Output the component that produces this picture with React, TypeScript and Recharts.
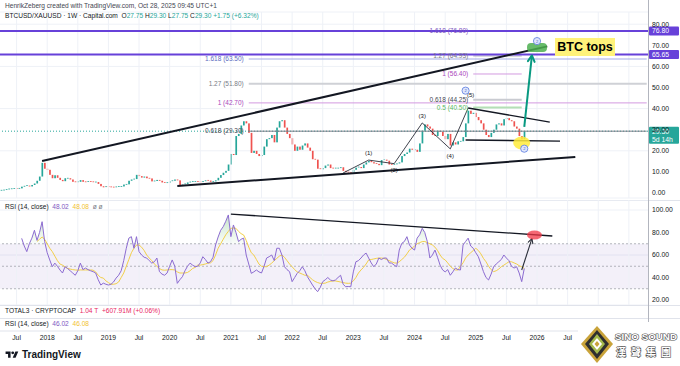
import React from "react";
import {
  ComposedChart,
  Bar,
  Line,
  Area,
  XAxis,
  YAxis,
  CartesianGrid,
  ReferenceLine,
  ReferenceArea,
  ReferenceDot,
} from "recharts";

// semi-monthly slots, slot 0 = first half of Apr 2017
const SLOTS = 254;

// BTC/XAU closes, two per month, Apr 2017 .. Oct 2025
const closes = [
  1.3, 1.4, 1.6, 1.9, 2.0, 2.1, 2.0, 2.2, 3.0, 3.4, 3.5, 3.1,
  3.8, 4.5, 5.8, 7.8, 14.3, 11.5, 11.0, 8.6, 7.0, 8.4, 7.2, 6.2,
  5.6, 7.0, 7.0, 6.4, 5.3, 5.0, 5.3, 6.1, 5.3, 5.2, 5.4, 5.3,
  5.2, 5.2, 4.3, 3.2, 2.7, 3.0, 2.9, 2.8, 2.7, 2.9, 3.1, 3.1,
  4.0, 4.1, 5.8, 6.4, 6.6, 8.6, 8.0, 7.3, 7.8, 7.0, 6.9, 5.5,
  5.7, 6.2, 5.8, 5.0, 4.9, 4.9, 5.5, 5.8, 6.4, 6.0, 3.5, 4.0,
  4.3, 5.0, 5.4, 5.5, 5.5, 5.3, 5.2, 5.6, 6.0, 5.9, 5.3, 5.5,
  6.0, 7.2, 8.5, 9.6, 10.5, 13.5, 18.5, 18.0, 27.0, 28.0, 32.0, 34.0,
  33.0, 28.5, 19.0, 20.0, 18.5, 17.5, 18.0, 22.0, 25.5, 26.0, 27.5, 24.0,
  31.0, 34.0, 34.5, 31.0, 28.0, 26.0, 23.0, 20.0, 22.0, 20.5, 22.5, 23.5,
  21.5, 20.0, 16.0, 15.8, 11.5, 11.2, 11.8, 13.0, 13.5, 11.8, 11.5, 11.8,
  11.8, 12.2, 10.5, 9.9, 9.7, 9.6, 11.0, 12.0, 12.3, 11.8, 13.5, 14.5,
  15.2, 14.6, 14.0, 13.8, 13.2, 15.6, 15.8, 15.3, 13.5, 13.4, 13.6, 14.0,
  14.5, 17.5, 18.5, 19.2, 21.0, 20.5, 20.5, 19.5, 23.5, 29.5, 32.5, 31.5,
  30.5, 27.5, 27.0, 29.5, 29.0, 27.0, 25.5, 28.0, 22.5, 24.0, 23.0, 24.5,
  24.5, 26.5, 33.0, 39.0, 37.5, 38.0, 36.0, 34.5, 33.0, 30.0, 27.5, 26.5,
  28.5, 30.0, 32.5, 33.0, 32.0, 35.0, 35.5, 34.5, 34.0, 31.5, 30.5, 27.0,
  25.5, 29.3,
];

const RSI_START = 8;
const rsiVals = [
  74.8, 68, 63, 70, 75, 82, 73, 80, 89.6, 72, 62, 55.6,
  49.6, 52.8, 50, 46.7, 44, 49.6, 48, 46, 44, 42, 46, 52.8,
  47, 48.4, 47, 46, 45.2, 44, 38, 33.3, 35, 34, 33.3, 34,
  36, 39.5, 42, 46, 55, 66, 75, 76.3, 66, 76.3, 63, 60,
  58, 57.3, 55, 52.8, 54, 57.3, 45.2, 43, 42, 44, 50, 55.6,
  50, 34.8, 38, 40.7, 46, 50, 52.8, 51, 49.6, 50, 53, 58.5,
  56, 52.8, 54, 58, 68.9, 76, 82, 85.2, 90, 95.6, 76.3, 86.7,
  80, 71.9, 74, 75, 60, 52, 43.7, 45, 46.7, 45, 44, 50,
  57.3, 58.5, 60, 55, 66, 66, 60, 49.6, 47, 45.2, 36.3, 40,
  43.7, 46, 49.6, 46, 40.7, 37, 33.3, 30, 27.4, 31, 36.3, 38,
  40, 37.8, 37, 37.8, 40, 42, 34, 31.8, 32, 31.8, 45, 54,
  55, 57.3, 60, 61.7, 57.3, 53, 49.6, 52, 57.3, 56, 57.3, 57.3,
  53, 52.8, 51, 49.6, 64.4, 70.4, 72, 76.3, 68.9, 66, 64.4, 75,
  78, 83.7, 80, 71.9, 57.3, 60, 64.4, 58, 51, 46.7, 45, 47,
  42, 45, 48.4, 47, 46.7, 68.9, 72, 75, 68, 66, 62, 58.5,
  52, 45.2, 40, 37.8, 43, 49.6, 52, 54, 56, 60, 57.3, 55,
  50, 48.4, 49.6, 44, 36.3, 48,
];

const MA_START = 14;
const rsiMa = [
  72, 74, 76, 74, 70, 66, 63, 59, 55, 52, 51, 49.5,
  48, 47.5, 47, 46.7, 46.5, 46.7, 46.7, 46.7, 46.7, 46.7, 46.5, 45,
  42, 40, 39.5, 37, 35.5, 34, 34, 34.5, 36, 40, 44, 50,
  56, 62, 66, 68.9, 68.9, 67, 64, 60, 57.3, 55, 52, 50,
  48, 46.7, 46.5, 46.7, 47, 47, 46.7, 45, 44, 44, 44, 44.5,
  46, 48, 49, 51, 51, 51.5, 52, 52.8, 53, 55, 60, 66,
  70, 74, 78, 81, 83.7, 84, 83.7, 81, 79, 77.8, 73, 67,
  62, 60, 56, 52, 50, 49.6, 49.6, 51, 52.8, 55, 57, 59,
  60, 58, 55, 52, 49.6, 47, 45, 44, 43, 42, 42, 40,
  38, 36.5, 35.5, 34.8, 34.8, 35, 36, 36.5, 37, 36.9, 36.5, 36,
  35.5, 35, 34.8, 35, 37, 40, 44, 46.7, 49, 52, 55.6, 56,
  56.5, 57, 57.3, 57.3, 57, 56, 55, 54, 53, 52.8, 54, 56,
  58, 61, 64.4, 66, 68, 70, 71, 71.9, 72, 71, 70, 68.9,
  67, 64, 60, 57, 55.6, 53, 50, 48, 46.7, 46.7, 50, 53,
  57.3, 60, 62, 64, 66, 64, 61, 57, 54, 50, 47, 45.2,
  46, 47.5, 49.6, 51, 52.5, 54, 54, 53, 52, 50.5, 49.6, 48,
];

// Jul / Jan slots; the grid runs to Jul 2027, the labels stop where the logo starts
const gridTicks = [6, 18, 30, 42, 54, 66, 78, 90, 102, 114, 126, 138, 150, 162, 174, 186, 198, 210, 222, 234, 246];
const labelTicks = [6, 18, 30, 42, 54, 66, 78, 90, 102, 114, 126, 138, 150, 162, 174, 186, 198, 210, 222];
const yearOfTick: Record<number, string> = {
  18: "2018", 42: "2019", 66: "2020", 90: "2021", 114: "2022",
  138: "2023", 162: "2024", 186: "2025", 210: "2026",
};
const priceTicks = [0, 10, 20, 30, 40, 50, 60, 70, 80];
const rsiTicks = [20, 40, 60, 80, 100];

// drawings, in slot / price coordinates
const wedgeUpper = [{ x: 16, y: 15.2 }, { x: 214, y: 69.5 }];
const wedgeLower = [{ x: 69, y: 3.3 }, { x: 225, y: 17.1 }];
const triUpper = [{ x: 183, y: 40.3 }, { x: 215, y: 33.6 }];
const triLower = [{ x: 182, y: 25.1 }, { x: 219, y: 24.6 }];
const wavePath = [
  { x: 134, y: 9.5 }, { x: 144, y: 15.6 }, { x: 154, y: 13.9 },
  { x: 165, y: 33.2 }, { x: 176, y: 20.9 }, { x: 183, y: 40.3 },
];
const waveLabels = [
  { x: 144, y: 19, t: "(1)" }, { x: 154, y: 10.9, t: "(2)" }, { x: 165, y: 36.6, t: "(3)" },
  { x: 176, y: 17.5, t: "(4)" }, { x: 184, y: 46.6, t: "(5)" },
];
const tealArrow = [{ x: 205, y: 31.3 }, { x: 208, y: 65.2 }];
const rsiTrend = [{ x: 90, y: 96.4 }, { x: 216, y: 76.9 }];
const rsiArrow = [{ x: 204, y: 46.7 }, { x: 208, y: 74.5 }];

const fibLeft = [
  { v: 63.5, t: "1.618 (63.50)", line: "#a4abe6", text: "#5c6bc0", w: 1 },
  { v: 51.8, t: "1.27 (51.80)", line: "#cfd1d6", text: "#787b86", w: 2 },
  { v: 42.7, t: "1 (42.70)", line: "#d39ae0", text: "#ab47bc", w: 1 },
  { v: 29.3, t: "0.618 (29.30)", line: "#787b86", text: "#434651", w: 1 },
];
const FIB_LEFT_FROM = 97;
const FIB_LEFT_TO = 253;
const fibRight = [
  { v: 76.8, t: "1.618 (76.80)", line: "#6741d9", text: "#7e57c2", w: 1 },
  { v: 64.93, t: "1.27 (64.93)", line: "#b2b5be", text: "#787b86", w: 1 },
  { v: 56.4, t: "1 (56.40)", line: "#d39ae0", text: "#ab47bc", w: 1 },
  { v: 44.25, t: "0.618 (44.25)", line: "#c9cbd1", text: "#434651", w: 2 },
  { v: 40.5, t: "0.5 (40.50)", line: "#b4dfb6", text: "#5cb85f", w: 2 },
];
const FIB_RIGHT_FROM = 185;
const FIB_RIGHT_TO = 204;
const purpleLevels = [76.8, 65.65];
const LAST = 29.3;

const rows = Array.from({ length: SLOTS }, (_, i) => {
  const c = i < closes.length ? closes[i] : null;
  const o = c == null ? null : i === 0 ? c : closes[i - 1];
  const ri = i - RSI_START;
  const mi = i - MA_START;
  return {
    i,
    o,
    c,
    body: c == null || o == null ? null : [Math.min(o, c), Math.max(o, c)],
    rsi: ri >= 0 && ri < rsiVals.length ? rsiVals[ri] : null,
    ma: mi >= 0 && mi < rsiMa.length ? rsiMa[mi] : null,
  };
});

const UP = "#26a69a";
const DOWN = "#ef5350";
const INK = "#131722";
const GRID = "#eef1f7";
const PURPLE = "#6741d9";
const FONT = '"Liberation Sans", Arial, sans-serif';

const Candle = (p: any) => {
  const { x, y, width, height, payload } = p;
  if (payload == null || payload.c == null) return null;
  const up = payload.c >= payload.o;
  const w = 1.7;
  const h = Math.max(0.8, Math.abs(height));
  const top = Math.min(y, y + height) - (h > Math.abs(height) ? 0.4 : 0);
  return <rect x={x + width / 2 - w / 2} y={top} width={w} height={h} fill={up ? UP : DOWN} />;
};

const arrowShape = (color: string, width: number, head: number) => (p: any) => {
  const { x1, y1, x2, y2 } = p;
  const a = Math.atan2(y2 - y1, x2 - x1);
  const s = 0.5;
  const ax = x2 - head * Math.cos(a - s);
  const ay = y2 - head * Math.sin(a - s);
  const bx = x2 - head * Math.cos(a + s);
  const by = y2 - head * Math.sin(a + s);
  return (
    <g>
      <line x1={x1} y1={y1} x2={x2} y2={y2} stroke={color} strokeWidth={width} />
      <polyline
        points={`${ax},${ay} ${x2},${y2} ${bx},${by}`}
        fill="none"
        stroke={color}
        strokeWidth={width}
        strokeLinecap="round"
        strokeLinejoin="round"
      />
    </g>
  );
};

const axisTag = (text: string, bg: string, sub?: string) => (props: any) => {
  const vb = props.viewBox;
  const x = vb.x + vb.width;
  const y = vb.y;
  const h = sub ? 17 : 9;
  return (
    <g>
      <rect x={x + 1} y={y - 4.5} width={30} height={h} fill={bg} rx={1} />
      <text x={x + 4} y={y + 2.4} fontSize={6.8} fill="#fff" fontFamily={FONT}>{text}</text>
      {sub ? <text x={x + 4} y={y + 10.5} fontSize={6.8} fill="#fff" fontFamily={FONT}>{sub}</text> : null}
    </g>
  );
};

const textDot = (txt: string, color: string, size: number) => (p: any) => (
  <text x={p.cx} y={p.cy} textAnchor="middle" dominantBaseline="central" fontSize={size} fill={color} fontFamily={FONT}>
    {txt}
  </text>
);

const ringDot = (p: any) => (
  <g>
    <circle cx={p.cx} cy={p.cy} r={3.6} fill="#dfe6fb" stroke="#5b7be0" strokeWidth={0.8} />
    <text x={p.cx} y={p.cy} textAnchor="middle" dominantBaseline="central" fontSize={4} fill="#3f5fcf" fontFamily={FONT}>2</text>
  </g>
);

const axisTick = { fontSize: 6.8, fill: INK, fontFamily: FONT };

function PriceChart() {
  return (
    <ComposedChart width={680} height={200} data={rows} margin={{ top: 12, right: 0, bottom: 2, left: 0 }} barCategoryGap={0}>
      <CartesianGrid stroke={GRID} vertical={false} />
      <XAxis dataKey="i" type="category" scale="band" hide />
      <YAxis
        orientation="right"
        width={32}
        domain={[-2.37, 85.78]}
        ticks={priceTicks}
        allowDataOverflow
        tickFormatter={(v: number) => v.toFixed(2)}
        tick={axisTick}
        tickLine={false}
        axisLine={false}
        tickSize={0}
        tickMargin={4}
      />
      {gridTicks.map((t) => (
        <ReferenceLine key={"v" + t} x={t} stroke={GRID} />
      ))}

      {/* current price line */}
      <ReferenceLine y={LAST} stroke={UP} strokeDasharray="1 2" label={axisTag("29.30", UP, "5d 14h")} />

      {/* fib levels, left set */}
      {fibLeft.map((f) => (
        <ReferenceLine
          key={f.t}
          segment={[{ x: FIB_LEFT_FROM, y: f.v }, { x: FIB_LEFT_TO, y: f.v }]}
          stroke={f.line}
          strokeWidth={f.w}
          label={{ value: f.t, position: "left", fontSize: 6.5, fill: f.text, fontFamily: FONT }}
        />
      ))}
      {/* fib levels, right set */}
      {fibRight.map((f) => (
        <ReferenceLine
          key={f.t}
          segment={[{ x: FIB_RIGHT_FROM, y: f.v }, { x: FIB_RIGHT_TO, y: f.v }]}
          stroke={f.line}
          strokeWidth={f.w}
          label={{ value: f.t, position: "left", fontSize: 6.5, fill: f.text, fontFamily: FONT }}
        />
      ))}
      {purpleLevels.map((v) => (
        <ReferenceLine
          key={"p" + v}
          y={v}
          stroke={PURPLE}
          strokeWidth={2}
          label={axisTag(v.toFixed(2), PURPLE)}
        />
      ))}

      <Bar dataKey="body" shape={Candle} isAnimationActive={false} />

      {/* wedge, triangle and wave count */}
      <ReferenceLine segment={wedgeUpper} stroke={INK} strokeWidth={2} />
      <ReferenceLine segment={wedgeLower} stroke={INK} strokeWidth={2} />
      <ReferenceLine segment={triUpper} stroke={INK} strokeWidth={1.4} />
      <ReferenceLine segment={triLower} stroke={INK} strokeWidth={1.4} />
      {wavePath.slice(1).map((p, k) => (
        <ReferenceLine key={"w" + k} segment={[wavePath[k], p]} stroke="#2a2e39" strokeWidth={0.9} />
      ))}
      {waveLabels.map((w) => (
        <ReferenceDot key={w.t} x={w.x} y={w.y} r={0} shape={textDot(w.t, INK, 6)} />
      ))}

      <ReferenceDot
        x={204}
        y={23.7}
        r={0}
        shape={(p: any) => <ellipse cx={p.cx} cy={p.cy} rx={8.5} ry={6.5} fill="#ffeb3b" fillOpacity={0.85} />}
      />
      <ReferenceDot x={205} y={21.0} r={0} shape={ringDot} />
      <ReferenceDot x={182} y={48.5} r={0} shape={ringDot} />
      <ReferenceLine segment={tealArrow} shape={arrowShape("#089981", 2, 7)} />
      <ReferenceDot
        x={210}
        y={69}
        r={0}
        shape={(p: any) => (
          <rect x={p.cx - 10} y={p.cy - 4.5} width={20} height={9} rx={4} fill="#4caf50" fillOpacity={0.85} />
        )}
      />
      <ReferenceDot x={210} y={72} r={0} shape={ringDot} />
    </ComposedChart>
  );
}

function RsiChart() {
  return (
    <ComposedChart width={680} height={105} data={rows} margin={{ top: 0, right: 0, bottom: 0, left: 0 }}>
      <defs>
        <linearGradient id="obFill" gradientUnits="userSpaceOnUse" x1="0" y1="0" x2="0" y2="44.3">
          <stop offset="0" stopColor="#2e9d3a" stopOpacity={0.75} />
          <stop offset="0.97" stopColor="#66bb6a" stopOpacity={0.08} />
          <stop offset="1" stopColor="#66bb6a" stopOpacity={0} />
        </linearGradient>
      </defs>
      <CartesianGrid stroke={GRID} vertical={false} />
      <XAxis dataKey="i" type="category" scale="band" hide />
      <YAxis
        orientation="right"
        width={32}
        domain={[15.56, 108.89]}
        ticks={rsiTicks}
        allowDataOverflow
        tickFormatter={(v: number) => v.toFixed(2)}
        tick={axisTick}
        tickLine={false}
        axisLine={false}
        tickSize={0}
        tickMargin={4}
      />
      {gridTicks.map((t) => (
        <ReferenceLine key={"v" + t} x={t} stroke={GRID} />
      ))}
      <ReferenceArea y1={30} y2={70} fill="#7e57c2" fillOpacity={0.09} stroke="none" />
      {[70, 50, 30].map((v) => (
        <ReferenceLine key={"r" + v} y={v} stroke="#9598a1" strokeDasharray="2 2" strokeOpacity={0.7} />
      ))}
      <Area dataKey="rsi" baseValue={70} stroke="none" fill="url(#obFill)" isAnimationActive={false} dot={false} activeDot={false} />
      <Line dataKey="ma" stroke="#f2cf4a" strokeWidth={1} dot={false} isAnimationActive={false} />
      <Line dataKey="rsi" stroke="#8c6bd1" strokeWidth={1} dot={false} isAnimationActive={false} />
      <ReferenceLine segment={rsiTrend} stroke={INK} strokeWidth={1.3} />
      <ReferenceDot
        x={209}
        y={77.8}
        r={0}
        shape={(p: any) => <ellipse cx={p.cx} cy={p.cy} rx={7.5} ry={4.5} fill="#f23645" fillOpacity={0.75} />}
      />
      <ReferenceLine segment={rsiArrow} shape={arrowShape("#2a2e39", 1.1, 5)} />
    </ComposedChart>
  );
}

function TimeAxis() {
  return (
    <ComposedChart width={680} height={16} data={rows} margin={{ top: 1, right: 32, bottom: 0, left: 0 }}>
      <XAxis
        dataKey="i"
        type="category"
        scale="band"
        height={14}
        ticks={labelTicks}
        interval={0}
        tickFormatter={(v: number) => yearOfTick[v] ?? "Jul"}
        tick={{ fontSize: 6.8, fill: INK, fontFamily: FONT }}
        tickLine={false}
        axisLine={{ stroke: "#e0e3eb" }}
        tickSize={0}
        tickMargin={4}
      />
      <Line dataKey="c" stroke="none" dot={false} isAnimationActive={false} />
    </ComposedChart>
  );
}

const abs = (l: number, t: number): React.CSSProperties => ({ position: "absolute", left: l, top: t });
const hr = (t: number): React.CSSProperties => ({ position: "absolute", left: 0, top: t, width: 680, height: 1, background: "#e0e3eb" });

export default function App() {
  const small: React.CSSProperties = { fontSize: 6.6, fontFamily: FONT, color: INK, whiteSpace: "nowrap", lineHeight: "8px" };
  return (
    <div style={{ position: "absolute", left: 0, top: 0, width: 680, height: 366, background: "#fff", overflow: "hidden", fontFamily: FONT }}>
      <div style={abs(0, 0)}><PriceChart /></div>
      <div style={hr(200)} />
      <div style={abs(0, 200)}><RsiChart /></div>
      <div style={hr(305)} />
      <div style={hr(318)} />
      <div style={abs(0, 329)}><TimeAxis /></div>
      <div style={{ position: "absolute", left: 648, top: 0, width: 1, height: 331, background: "#b2b5be" }} />

      <div style={{ ...abs(5, 2), ...small, color: "#434651" }}>
        HenrikZeberg created with TradingView.com, Oct 28, 2025 09:45 UTC+1
      </div>
      <div style={{ ...abs(5, 12), ...small }}>
        BTCUSD/XAUUSD · 1W · Capital.com&nbsp;&nbsp;O<span style={{ color: UP }}>27.75</span>&nbsp;H
        <span style={{ color: UP }}>29.30</span>&nbsp;L<span style={{ color: UP }}>27.75</span>&nbsp;C
        <span style={{ color: UP }}>29.30</span>&nbsp;<span style={{ color: UP }}>+1.75 (+6.32%)</span>
      </div>
      <div style={{ ...abs(5, 203), ...small }}>
        RSI (14, close)&nbsp;&nbsp;<span style={{ color: "#7e57c2" }}>48.02</span>&nbsp;&nbsp;
        <span style={{ color: "#f2c230" }}>48.08</span>&nbsp;&nbsp;<span style={{ color: "#787b86" }}>ø ø</span>
      </div>
      <div style={{ ...abs(5, 307), ...small }}>
        TOTAL3 · CRYPTOCAP&nbsp;&nbsp;<span style={{ color: "#e91e63" }}>1.04 T</span>&nbsp;&nbsp;
        <span style={{ color: "#e91e63" }}>+607.91M (+0.06%)</span>
      </div>
      <div style={{ ...abs(5, 320), ...small }}>
        RSI (14, close)&nbsp;&nbsp;<span style={{ color: "#7e57c2" }}>46.02</span>&nbsp;&nbsp;
        <span style={{ color: "#f2c230" }}>46.08</span>
      </div>

      <div
        style={{
          ...abs(555, 38),
          width: 60,
          height: 18,
          background: "#fff27a",
          fontSize: 12.5,
          fontWeight: 700,
          color: "#000",
          lineHeight: "18px",
          textAlign: "center",
          whiteSpace: "nowrap",
          fontFamily: FONT,
        }}
      >
        BTC tops
      </div>

      <div style={{ ...abs(5, 349), display: "flex", alignItems: "center", gap: 3 }}>
        <svg width={14} height={10} viewBox="0 0 36 28">
          <path d="M14 22H7V11H0V4h14v18z" fill={INK} />
          <circle cx={20} cy={8} r={4} fill={INK} />
          <path d="M28 22h-8l7.5-18h8L28 22z" fill={INK} />
        </svg>
        <span style={{ fontSize: 10, fontWeight: 700, color: INK, fontFamily: FONT }}>TradingView</span>
      </div>

      <svg style={abs(578, 322)} width={102} height={44}>
        <rect x={0} y={0} width={102} height={44} fill="#fff" />
        <polygon points="19,4 35,22 19,41 3,22" fill="#c9a33a" />
        <polygon points="19,8 31,22 19,37 7,22" fill="#2f2f2f" />
        <polygon points="19,12 27,22 19,32 11,22" fill="#a4b94c" />
        <polygon points="19,16 24,22 19,28 14,22" fill="#fff" />
        <polygon points="19,19 21.5,22 19,25 16.5,22" fill="#c9a33a" />
        <text
          x={37}
          y={18}
          fontSize={9.5}
          fontWeight={700}
          fill="#fff"
          stroke="#555"
          strokeWidth={1.2}
          paintOrder="stroke"
          textLength={62}
          lengthAdjust="spacingAndGlyphs"
          fontFamily={FONT}
        >
          SINO SOUND
        </text>
        <text
          x={38}
          y={34}
          fontSize={10}
          fontWeight={700}
          fill="#fff"
          stroke="#555"
          strokeWidth={1.2}
          paintOrder="stroke"
          letterSpacing={5}
          fontFamily='"Noto Sans CJK TC", sans-serif'
        >
          漢聲集團
        </text>
      </svg>
    </div>
  );
}
